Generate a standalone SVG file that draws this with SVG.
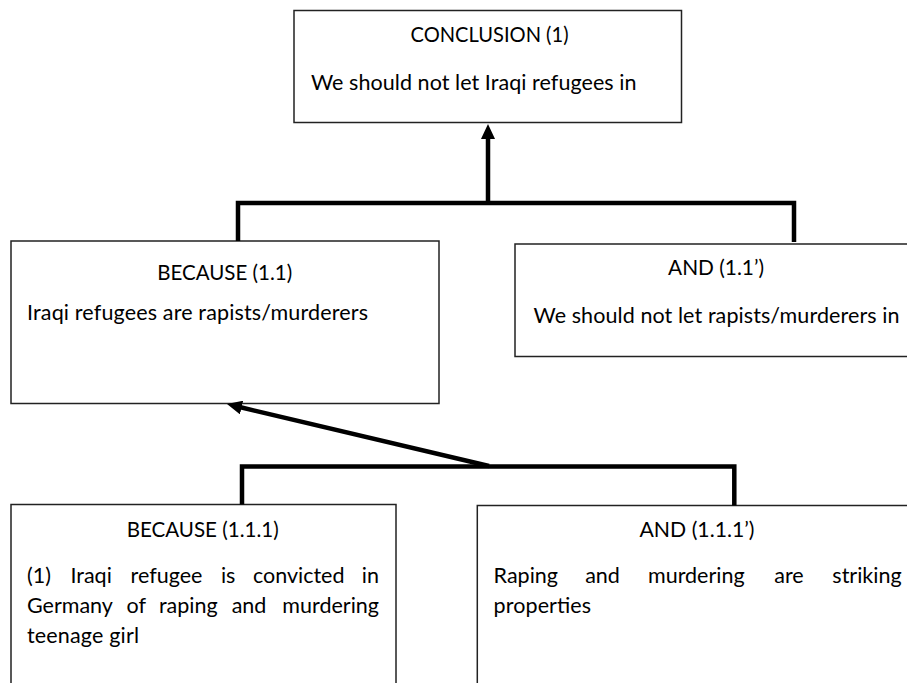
<svg xmlns="http://www.w3.org/2000/svg" width="907" height="683" viewBox="0 0 907 683">
  <style>
    .box { fill: #ffffff; stroke: #222222; stroke-width: 1.5; }
    .t { font-family: Lato, "Open Sans", "Liberation Sans", sans-serif; font-size: 21.5px; fill: #000000; }
    .c { text-anchor: middle; }
    .e { text-anchor: end; }
    .conn { fill: none; stroke: #000000; stroke-width: 4.5; stroke-linejoin: miter; }
  </style>
  <defs>
    <marker id="arrow" markerUnits="userSpaceOnUse" markerWidth="15" markerHeight="14" viewBox="0 0 15 14" refX="1" refY="7" orient="auto">
      <path d="M0,0 L15,7 L0,14 Z" fill="#000000"/>
    </marker>
  </defs>
  <rect width="907" height="683" fill="#ffffff"/>

  <g id="node-conclusion">
    <rect class="box" x="294" y="10.5" width="387.5" height="112"/>
    <text class="t c" x="489.5" y="42" textLength="158" lengthAdjust="spacingAndGlyphs">CONCLUSION (1)</text>
    <text class="t" x="311" y="89.5" textLength="325.5">We should not let Iraqi refugees in</text>
  </g>

  <g id="node-because-1-1">
    <rect class="box" x="11" y="241" width="428" height="162.5"/>
    <text class="t c" x="224.7" y="279.5" textLength="135" lengthAdjust="spacingAndGlyphs">BECAUSE (1.1)</text>
    <text class="t" x="27" y="320" textLength="341">Iraqi refugees are rapists/murderers</text>
  </g>

  <g id="node-and-1-1p">
    <rect class="box" x="515" y="244" width="410" height="112.5"/>
    <text class="t c" x="716" y="275" textLength="96" lengthAdjust="spacingAndGlyphs">AND (1.1’)</text>
    <text class="t" x="533.5" y="322.5" textLength="366">We should not let rapists/murderers in</text>
  </g>

  <g id="node-because-1-1-1">
    <rect class="box" x="11" y="504.5" width="385" height="200"/>
    <text class="t c" x="202.7" y="537" textLength="152" lengthAdjust="spacingAndGlyphs">BECAUSE (1.1.1)</text>
    <text class="t" y="583"><tspan x="27">(1)</tspan><tspan x="70.4">Iraqi</tspan><tspan x="130.5">refugee</tspan><tspan x="220.9">is</tspan><tspan x="252.9">convicted</tspan><tspan class="e" x="379">in</tspan></text>
    <text class="t" y="613"><tspan x="27">Germany</tspan><tspan x="126.5">of</tspan><tspan x="158.9">raping</tspan><tspan x="231.7">and</tspan><tspan class="e" x="379">murdering</tspan></text>
    <text class="t" x="27" y="643" textLength="112">teenage girl</text>
  </g>

  <g id="node-and-1-1-1p">
    <rect class="box" x="477.3" y="505.5" width="440" height="200"/>
    <text class="t c" x="697" y="537" textLength="115" lengthAdjust="spacingAndGlyphs">AND (1.1.1’)</text>
    <text class="t" y="583"><tspan x="493.6">Raping</tspan><tspan x="585.2">and</tspan><tspan x="648">murdering</tspan><tspan x="774.3">are</tspan><tspan class="e" x="901.6">striking</tspan></text>
    <text class="t" x="493.6" y="613" textLength="97.5">properties</text>
  </g>

  <g id="connectors">
    <path class="conn" d="M238,241 V203 H794 V242"/>
    <path class="conn" d="M488,203 V138" marker-end="url(#arrow)"/>
    <path class="conn" d="M242,504.5 V466.5 H734.3 V505.5"/>
    <path class="conn" d="M489,466 L240.6,407.3" marker-end="url(#arrow)"/>
  </g>
</svg>
